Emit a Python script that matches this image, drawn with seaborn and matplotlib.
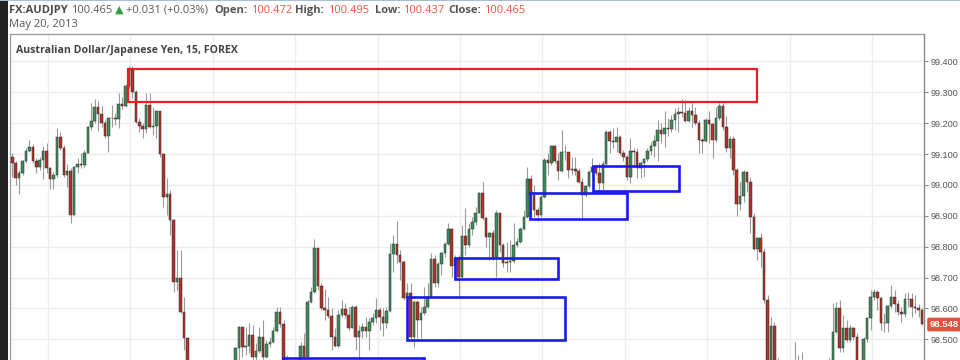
import numpy as np
import pandas as pd
import matplotlib
matplotlib.use("Agg")
import matplotlib.pyplot as plt
from matplotlib.patches import Rectangle
import seaborn as sns

# ---------------- data (AUD/JPY, 15 min candles) ----------------
first_open = 99.090
close = [
    99.070, 99.022, 99.038, 99.076, 99.111, 99.124, 99.076, 99.057, 99.081, 99.111,
    99.054, 99.018, 99.032, 99.154, 99.119, 99.032, 99.046, 98.903, 99.057, 99.068,
    99.064, 99.105, 99.187, 99.208, 99.254, 99.229, 99.200, 99.159, 99.216, 99.217,
    99.215, 99.262, 99.256, 99.319, 99.373, 99.300, 99.205, 99.191, 99.180, 99.259,
    99.189, 99.191, 99.238, 99.100, 98.962, 98.970, 98.887, 98.687, 98.698, 98.590,
    98.503, 98.401, 98.368, 98.352, 98.379, 98.341, 98.325, 98.347, 98.336, 98.357,
    98.374, 98.363, 98.384, 98.401, 98.425, 98.471, 98.541, 98.474, 98.478, 98.513,
    98.444, 98.463, 98.509, 98.444, 98.485, 98.491, 98.528, 98.587, 98.549, 98.411,
    98.395, 98.379, 98.390, 98.406, 98.478, 98.444, 98.622, 98.652, 98.797, 98.673,
    98.603, 98.595, 98.577, 98.506, 98.479, 98.578, 98.599, 98.579, 98.538, 98.606,
    98.509, 98.528, 98.539, 98.528, 98.555, 98.568, 98.595, 98.573, 98.554, 98.593,
    98.775, 98.809, 98.773, 98.752, 98.635, 98.649, 98.509, 98.622, 98.563, 98.584,
    98.606, 98.638, 98.760, 98.681, 98.744, 98.779, 98.809, 98.857, 98.738, 98.762,
    98.703, 98.836, 98.806, 98.857, 98.879, 98.910, 98.975, 98.892, 98.833, 98.843,
    98.768, 98.908, 98.806, 98.746, 98.751, 98.755, 98.806, 98.816, 98.856, 98.897,
    99.018, 98.968, 98.919, 98.903, 98.960, 99.081, 99.070, 99.126, 99.078, 99.046,
    99.106, 99.108, 99.049, 99.051, 99.045, 99.011, 98.968, 98.997, 99.043, 99.057,
    99.038, 99.005, 99.068, 99.170, 99.144, 99.140, 99.154, 99.105, 99.092, 99.025,
    99.111, 99.108, 99.054, 99.070, 99.083, 99.111, 99.126, 99.143, 99.178, 99.165,
    99.184, 99.181, 99.211, 99.229, 99.235, 99.232, 99.208, 99.238, 99.227, 99.202,
    99.146, 99.144, 99.211, 99.198, 99.146, 99.216, 99.256, 99.189, 99.119, 99.149,
    99.049, 98.938, 98.965, 99.041, 99.009, 98.897, 98.793, 98.827, 98.784, 98.627,
    98.411, 98.543, 98.411, 98.379, 98.357, 98.336, 98.352, 98.368, 98.384, 98.374,
    98.390, 98.368, 98.352, 98.363, 98.347, 98.368, 98.384, 98.401, 98.411, 98.525,
    98.600, 98.471, 98.536, 98.498, 98.536, 98.509, 98.411, 98.395, 98.500, 98.568,
    98.636, 98.654, 98.633, 98.554, 98.552, 98.608, 98.636, 98.614, 98.590, 98.581,
    98.630, 98.632, 98.606, 98.600, 98.595, 98.548,
]
high = [
    99.105, 99.076, 99.049, 99.081, 99.119, 99.146, 99.133, 99.086, 99.092, 99.126,
    99.137, 99.059, 99.043, 99.184, 99.173, 99.130, 99.068, 99.054, 99.062, 99.086,
    99.103, 99.113, 99.191, 99.267, 99.278, 99.273, 99.256, 99.211, 99.221, 99.259,
    99.232, 99.299, 99.286, 99.327, 99.386, 99.386, 99.308, 99.216, 99.200, 99.297,
    99.297, 99.254, 99.243, 99.238, 99.103, 99.022, 98.984, 98.889, 98.789, 98.789,
    98.638, 98.503, 98.406, 98.384, 98.395, 98.390, 98.357, 98.363, 98.368, 98.374,
    98.395, 98.390, 98.406, 98.417, 98.428, 98.476, 98.543, 98.541, 98.541, 98.552,
    98.546, 98.487, 98.541, 98.563, 98.498, 98.509, 98.541, 98.604, 98.604, 98.563,
    98.449, 98.425, 98.422, 98.425, 98.492, 98.522, 98.627, 98.671, 98.824, 98.795,
    98.681, 98.662, 98.638, 98.600, 98.536, 98.595, 98.627, 98.617, 98.606, 98.611,
    98.611, 98.546, 98.552, 98.573, 98.568, 98.584, 98.633, 98.604, 98.600, 98.606,
    98.811, 98.838, 98.883, 98.789, 98.757, 98.681, 98.681, 98.627, 98.627, 98.606,
    98.671, 98.681, 98.779, 98.773, 98.752, 98.784, 98.816, 98.876, 98.860, 98.773,
    98.773, 98.870, 98.924, 98.876, 98.897, 98.930, 98.978, 99.011, 98.897, 98.849,
    98.854, 98.919, 98.910, 98.811, 98.816, 98.822, 98.876, 98.827, 98.865, 98.919,
    99.057, 99.032, 99.000, 98.930, 98.968, 99.086, 99.103, 99.130, 99.130, 99.103,
    99.178, 99.130, 99.108, 99.092, 99.092, 99.054, 99.022, 99.000, 99.049, 99.086,
    99.065, 99.070, 99.076, 99.178, 99.178, 99.184, 99.189, 99.162, 99.113, 99.097,
    99.151, 99.119, 99.119, 99.076, 99.086, 99.119, 99.140, 99.162, 99.211, 99.200,
    99.238, 99.216, 99.227, 99.248, 99.254, 99.278, 99.275, 99.254, 99.265, 99.254,
    99.211, 99.151, 99.216, 99.238, 99.200, 99.254, 99.265, 99.265, 99.224, 99.159,
    99.157, 99.054, 99.008, 99.049, 99.043, 99.027, 98.908, 98.833, 98.843, 98.795,
    98.644, 98.573, 98.557, 98.438, 98.411, 98.379, 98.374, 98.390, 98.492, 98.449,
    98.460, 98.411, 98.384, 98.390, 98.379, 98.395, 98.411, 98.422, 98.438, 98.617,
    98.622, 98.627, 98.579, 98.563, 98.546, 98.541, 98.519, 98.422, 98.509, 98.573,
    98.660, 98.662, 98.660, 98.638, 98.584, 98.611, 98.676, 98.660, 98.627, 98.606,
    98.649, 98.654, 98.649, 98.644, 98.614, 98.600,
]
low = [
    99.025, 99.000, 98.971, 99.032, 99.070, 99.108, 99.070, 99.040, 99.049, 99.018,
    99.038, 98.986, 98.986, 99.027, 99.113, 99.027, 98.995, 98.876, 98.902, 99.038,
    99.054, 99.057, 99.103, 99.178, 99.200, 99.176, 99.189, 99.151, 99.108, 99.189,
    99.194, 99.184, 99.245, 99.254, 99.313, 99.281, 99.200, 99.173, 99.151, 99.167,
    99.184, 99.162, 99.151, 99.092, 98.930, 98.903, 98.838, 98.654, 98.660, 98.584,
    98.465, 98.368, 98.341, 98.325, 98.336, 98.325, 98.303, 98.309, 98.314, 98.325,
    98.341, 98.336, 98.352, 98.368, 98.384, 98.422, 98.433, 98.444, 98.449, 98.455,
    98.433, 98.425, 98.455, 98.425, 98.438, 98.476, 98.487, 98.525, 98.541, 98.401,
    98.368, 98.352, 98.357, 98.379, 98.401, 98.433, 98.438, 98.617, 98.649, 98.660,
    98.595, 98.563, 98.568, 98.465, 98.476, 98.476, 98.573, 98.568, 98.530, 98.536,
    98.465, 98.433, 98.503, 98.509, 98.465, 98.546, 98.552, 98.530, 98.511, 98.536,
    98.590, 98.719, 98.746, 98.692, 98.627, 98.573, 98.498, 98.476, 98.503, 98.503,
    98.579, 98.600, 98.636, 98.671, 98.671, 98.708, 98.768, 98.806, 98.703, 98.698,
    98.638, 98.698, 98.773, 98.800, 98.838, 98.870, 98.908, 98.887, 98.800, 98.757,
    98.757, 98.703, 98.784, 98.735, 98.719, 98.719, 98.746, 98.800, 98.811, 98.854,
    98.892, 98.897, 98.897, 98.883, 98.897, 98.957, 99.032, 99.065, 99.070, 99.016,
    99.043, 99.081, 99.022, 99.032, 99.032, 99.005, 98.892, 98.962, 98.989, 99.038,
    99.032, 98.978, 98.978, 99.062, 99.103, 99.119, 99.108, 99.097, 99.076, 99.016,
    99.005, 99.059, 99.022, 99.022, 99.027, 99.076, 99.097, 99.092, 99.076, 99.135,
    99.124, 99.157, 99.173, 99.178, 99.173, 99.221, 99.205, 99.205, 99.189, 99.194,
    99.103, 99.103, 99.140, 99.135, 99.086, 99.140, 99.211, 99.178, 99.108, 99.086,
    99.032, 98.901, 98.919, 98.946, 98.978, 98.846, 98.789, 98.757, 98.735, 98.617,
    98.390, 98.401, 98.390, 98.347, 98.325, 98.303, 98.314, 98.330, 98.357, 98.347,
    98.357, 98.336, 98.325, 98.330, 98.314, 98.336, 98.352, 98.368, 98.379, 98.401,
    98.519, 98.460, 98.460, 98.492, 98.492, 98.498, 98.395, 98.368, 98.384, 98.492,
    98.530, 98.627, 98.595, 98.530, 98.525, 98.525, 98.600, 98.590, 98.579, 98.557,
    98.573, 98.606, 98.573, 98.584, 98.573, 98.546,
]
price_ticks = [98.5, 98.6, 98.7, 98.8, 98.9, 99.0, 99.1, 99.2, 99.3, 99.4]
last_price = 98.548
# supply zone (red) and demand zones (blue): start bar, end bar, low, high
supply_zones = [(33.8, 217.0, 99.270, 99.375)]
demand_zones = [
    (78.8, 120.0, 98.250, 98.440),
    (114.9, 161.0, 98.498, 98.636),
    (129.0, 159.0, 98.697, 98.765),
    (150.8, 179.0, 98.889, 98.975),
    (169.1, 194.1, 98.979, 99.063),
]
header_line1 = [
    ("FX:AUDJPY", "#4a4a4a", "bold"), ("100.465", "#5a5a5a", "normal"),
    ("\u25B2", "#2ea043", "normal"), ("+0.031 (+0.03%)", "#5a5a5a", "normal"),
    ("Open:", "#555555", "bold"), ("100.472", "#e8553e", "normal"),
    ("High:", "#555555", "bold"), ("100.495", "#e8553e", "normal"),
    ("Low:", "#555555", "bold"), ("100.437", "#e8553e", "normal"),
    ("Close:", "#555555", "bold"), ("100.465", "#e8553e", "normal"),
]
header_x = [9, 71, 114.5, 126, 214, 251, 295, 328, 375, 403, 448, 484]
date_text = "May 20, 2013"
title_text = "Australian Dollar/Japanese Yen, 15, FOREX"

# ---------------- frame ----------------
df = pd.DataFrame({"close": close, "high": high, "low": low})
df["open"] = [first_open] + close[:-1]
df["bar"] = np.arange(len(df))
df["up"] = df["close"] >= df["open"]
df["high"] = df[["high", "open", "close"]].max(axis=1)
df["low"] = df[["low", "open", "close"]].min(axis=1)

sns.set_theme(style="white")
plt.rcParams["font.family"] = ["Open Sans", "DejaVu Sans"]

W, H = 960, 360
fig = plt.figure(figsize=(W / 100, H / 100), dpi=100)
fig.patch.set_facecolor("white")

def fx(px):
    return px / W

def fy(py):
    return 1 - py / H

left_px, right_px, top_px = 9.5, 924.0, 34.0
ax = fig.add_axes([fx(left_px), 0, fx(right_px - left_px), (H - top_px) / H])
ax.set_facecolor("white")

px_per_bar = 3.433
bar0_px = 12.3
ax.set_xlim((left_px - bar0_px) / px_per_bar, (right_px - bar0_px) / px_per_bar)
ax.set_ylim(98.433, 99.489)

# grid
grid_start, grid_step = 10.4, 24
ax.set_xticks(np.arange(grid_start, len(df), grid_step))
ax.set_yticks(price_ticks)
ax.grid(True, color="#ededed", linewidth=1.0)
ax.set_axisbelow(True)

# wicks
ax.vlines(df["bar"], df["low"], df["high"], color="#9a9a9a", linewidth=0.8, zorder=2)
# bodies
body_bottom = df[["open", "close"]].min(axis=1)
body_h = (df["close"] - df["open"]).abs().clip(lower=0.0015)
colors = np.where(df["up"], "#3f8a5d", "#ad3427")
ax.bar(df["bar"], body_h, bottom=body_bottom, width=0.74, color=colors,
       edgecolor="#2f2f2f", linewidth=0.35, zorder=3)

# zones
for x0, x1, lo, hi in supply_zones:
    ax.add_patch(Rectangle((x0, lo), x1 - x0, hi - lo, fill=False,
                           edgecolor="#ee1c24", linewidth=1.6, zorder=4))
for x0, x1, lo, hi in demand_zones:
    ax.add_patch(Rectangle((x0, lo), x1 - x0, hi - lo, fill=False,
                           edgecolor="#1a1aee", linewidth=1.9, zorder=4))

# axes styling
ax.yaxis.tick_right()
ax.tick_params(axis="x", length=0, labelbottom=False)
ax.tick_params(axis="y", right=True, length=3, width=0.8, color="#888888",
               labelsize=6.6, labelcolor="#555555", pad=2)
ax.set_yticklabels([f"{v:.3f}" for v in price_ticks], family="Liberation Sans")
for s in ["top", "left"]:
    ax.spines[s].set_color("#9a9a9a")
    ax.spines[s].set_linewidth(0.9)
ax.spines["right"].set_color("#888888")
ax.spines["right"].set_linewidth(1.0)
ax.spines["bottom"].set_visible(False)

# last price tag
ax.annotate(f"{last_price:.3f}", xy=(1.0, last_price), xycoords=("axes fraction", "data"),
            xytext=(4, 0), textcoords="offset points", ha="left", va="center",
            fontsize=6.8, fontweight="bold", color="white", family="Liberation Sans",
            bbox=dict(boxstyle="round,pad=0.25,rounding_size=0.2", fc="#e0533d", ec="none"),
            annotation_clip=False)

# left dark band and top line
fig.add_artist(Rectangle((0, 0), fx(8), 1, transform=fig.transFigure,
                         facecolor="#232323", edgecolor="none"))
fig.add_artist(Rectangle((0, fy(1.2)), 1, 1.2 / H, transform=fig.transFigure,
                         facecolor="#a9bdd6", edgecolor="none"))

# header texts
for (txt, col, wt), xp in zip(header_line1, header_x):
    fig.text(fx(xp), fy(12.7), txt, color=col, fontweight=wt, fontsize=8.0,
             ha="left", va="baseline")
fig.text(fx(9), fy(26.7), date_text, color="#555555", fontsize=8.0,
         ha="left", va="baseline")
fig.text(fx(16), fy(53.0), title_text, color="#444444", fontweight="bold",
         fontsize=7.6, ha="left", va="baseline")

fig.savefig("out.png", dpi=100, facecolor="white")
